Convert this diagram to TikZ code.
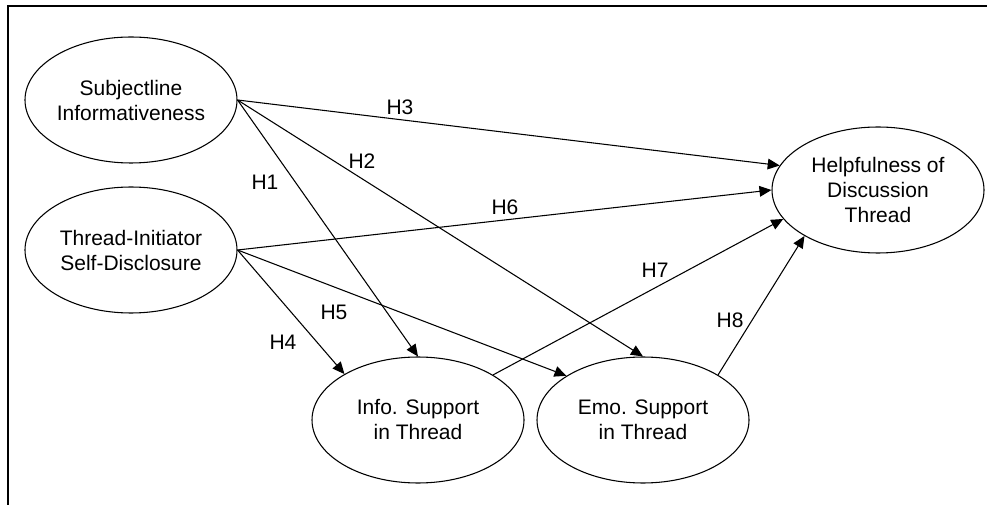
\documentclass[tikz,border=0pt]{standalone}
\usepackage{fontspec}
\setmainfont{Liberation Sans}
\usetikzlibrary{arrows.meta, shapes.geometric, positioning}

\begin{document}
\begin{tikzpicture}[x=0.75pt, y=-0.75pt, ->, >={Triangle[length=9pt, width=8pt]},
 line width=0.8pt, font=\fontsize{15.75}{18.75}\selectfont]
 \tikzstyle{block} = [ellipse, draw, align=center, inner sep=0pt,
   minimum width=159pt, minimum height=94.5pt]
 \tikzstyle{hlab} = [inner sep=1pt]
 \useasboundingbox (0,0) rectangle (987,505);
 \draw[-, line width=1.5pt] (987,6) -| (8,505); % frame, only top and left are shown

   \node[block] (S) at (131,100) {Subjectline\\Informativeness};
   \node[block] (T) at (131,250) {Thread-Initiator\\Self-Disclosure};
   \node[block] (I) at (418,420) {Info. Support\\in Thread};
   \node[block] (E) at (643,420) {Emo. Support\\in Thread};
   \node[block] (H) at (878,190) {Helpfulness of\\Discussion\\Thread};

   \node[hlab] (h1) at (265,182) {H1};
   \node[hlab] (h2) at (362,161) {H2};
   \node[hlab] (h3) at (400,107) {H3};
   \node[hlab] (h4) at (283,342) {H4};
   \node[hlab] (h5) at (334,312) {H5};
   \node[hlab] (h6) at (505,207) {H6};
   \node[hlab] (h7) at (655,270) {H7};
   \node[hlab] (h8) at (730,320) {H8};

 \path[]
	(S.east) edge (I.north)
	         edge (E.north)
	         edge (H.166)
	(T.east) edge (I.148)
	         edge (E.150)
	         edge (H.180)
	(I.31) edge (H.197)
	(E.31) edge (H.212);
\end{tikzpicture}
\end{document}
